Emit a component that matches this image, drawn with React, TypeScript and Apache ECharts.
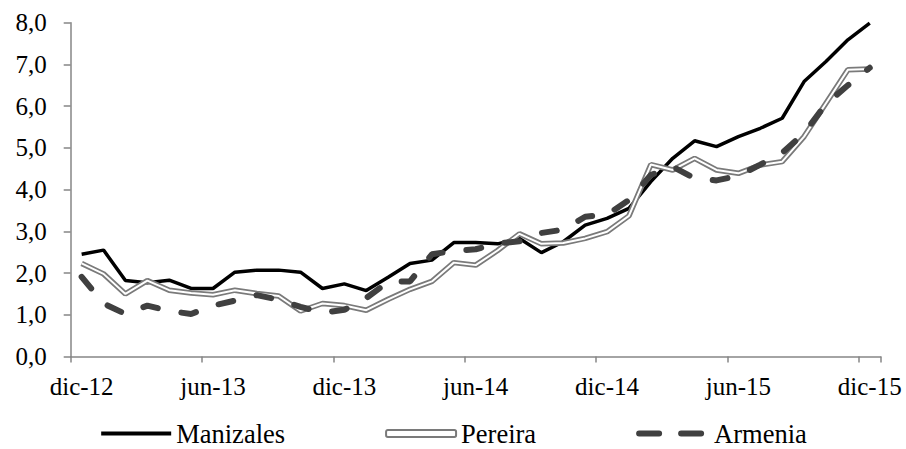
import React, { useEffect, useRef } from "react";
import * as echarts from "echarts";

const categories = [
  "dic-12", "ene-13", "feb-13", "mar-13", "abr-13", "may-13", "jun-13", "jul-13", "ago-13", "sep-13", "oct-13", "nov-13",
  "dic-13", "ene-14", "feb-14", "mar-14", "abr-14", "may-14", "jun-14", "jul-14", "ago-14", "sep-14", "oct-14", "nov-14",
  "dic-14", "ene-15", "feb-15", "mar-15", "abr-15", "may-15", "jun-15", "jul-15", "ago-15", "sep-15", "oct-15", "nov-15",
  "dic-15",
];

const manizales = [
  2.45, 2.55, 1.82, 1.77, 1.83, 1.63, 1.63, 2.02, 2.07, 2.07, 2.02, 1.63,
  1.74, 1.58, 1.90, 2.23, 2.31, 2.73, 2.73, 2.70, 2.83, 2.49, 2.75, 3.15,
  3.31, 3.55, 4.19, 4.75, 5.17, 5.03, 5.27, 5.47, 5.71, 6.59, 7.07, 7.59,
  7.99,
];

const pereira = [
  2.23, 1.98, 1.50, 1.82, 1.59, 1.52, 1.48, 1.59, 1.51, 1.45, 1.09, 1.27,
  1.22, 1.11, 1.37, 1.61, 1.80, 2.25, 2.19, 2.54, 2.94, 2.70, 2.72, 2.83,
  2.99, 3.37, 4.60, 4.47, 4.75, 4.47, 4.39, 4.59, 4.67, 5.27, 6.07, 6.87,
  6.89,
];

const armenia = [
  1.91, 1.27, 1.02, 1.22, 1.09, 1.02, 1.22, 1.34, 1.47, 1.36, 1.19, 1.05,
  1.12, 1.40, 1.79, 1.80, 2.45, 2.53, 2.57, 2.71, 2.76, 2.96, 3.04, 3.35,
  3.40, 3.75, 4.35, 4.55, 4.27, 4.22, 4.33, 4.60, 4.88, 5.35, 6.05, 6.50,
  6.92,
];

const FONT = "'Liberation Serif', 'Times New Roman', serif";
const AXIS_COLOR = "#868686";
const HIDDEN_SYMBOL = { color: "rgba(0,0,0,0)", borderWidth: 0, opacity: 0 };

export default function App() {
  const ref = useRef<HTMLDivElement>(null);

  useEffect(() => {
    if (!ref.current) return;
    const chart = echarts.init(ref.current, undefined, { renderer: "svg" });
    chart.setOption({
      animation: false,
      backgroundColor: "#ffffff",
      grid: { left: 70.7, right: 25.3, top: 22.7, bottom: 92.5, containLabel: false },
      legend: {
        top: 415,
        left: "center",
        itemWidth: 70,
        itemHeight: 7,
        itemGap: 100,
        textStyle: { fontFamily: FONT, fontSize: 26.5, color: "#000" },
        data: [
          {
            name: "Manizales",
            itemStyle: HIDDEN_SYMBOL,
            lineStyle: { color: "#000000", width: 4 },
          },
          {
            name: "Pereira",
            icon: "roundRect",
            itemStyle: { color: "#ffffff", borderColor: "#7a7a7a", borderWidth: 2, opacity: 1 },
          },
          {
            name: "Armenia",
            itemStyle: HIDDEN_SYMBOL,
            lineStyle: { color: "#404040", width: 6, type: [20, 22], cap: "round" },
          },
        ],
      },
      xAxis: {
        type: "category",
        data: categories,
        boundaryGap: true,
        axisLine: { show: true, lineStyle: { color: AXIS_COLOR, width: 1.5 } },
        axisTick: { show: true, interval: 5, length: 6, inside: false, lineStyle: { color: AXIS_COLOR, width: 1.5 } },
        axisLabel: {
          interval: 5,
          margin: 17,
          fontFamily: FONT,
          fontSize: 25,
          color: "#000",
        },
        splitLine: { show: false },
      },
      yAxis: {
        type: "value",
        min: 0,
        max: 8,
        interval: 1,
        axisLine: { show: true, lineStyle: { color: AXIS_COLOR, width: 1.5 } },
        axisTick: { show: true, length: 7, inside: false, lineStyle: { color: AXIS_COLOR, width: 1.5 } },
        axisLabel: {
          margin: 24,
          fontFamily: FONT,
          fontSize: 25,
          color: "#000",
          formatter: (v: number) => v.toFixed(1).replace(".", ","),
        },
        splitLine: { show: false },
      },
      series: [
        {
          name: "Manizales",
          type: "line",
          data: manizales,
          symbol: "none",
          lineStyle: { color: "#000000", width: 3.5 },
          itemStyle: { color: "#000000" },
        },
        {
          name: "Pereira",
          type: "line",
          data: pereira,
          symbol: "none",
          lineStyle: { color: "#7a7a7a", width: 5.5 },
          itemStyle: { color: "#7a7a7a" },
        },
        {
          name: "_pereira_inner",
          type: "line",
          data: pereira,
          symbol: "none",
          silent: true,
          lineStyle: { color: "#ffffff", width: 2 },
          itemStyle: { color: "#ffffff" },
        },
        {
          name: "Armenia",
          type: "line",
          data: armenia,
          symbol: "none",
          lineStyle: { color: "#404040", width: 6, type: [15, 24], cap: "round" },
          itemStyle: { color: "#404040" },
        },
      ],
    });
    return () => chart.dispose();
  }, []);

  return (
    <div
      ref={ref}
      style={{ position: "fixed", left: 0, top: 0, width: 906, height: 449, background: "#fff" }}
    />
  );
}
